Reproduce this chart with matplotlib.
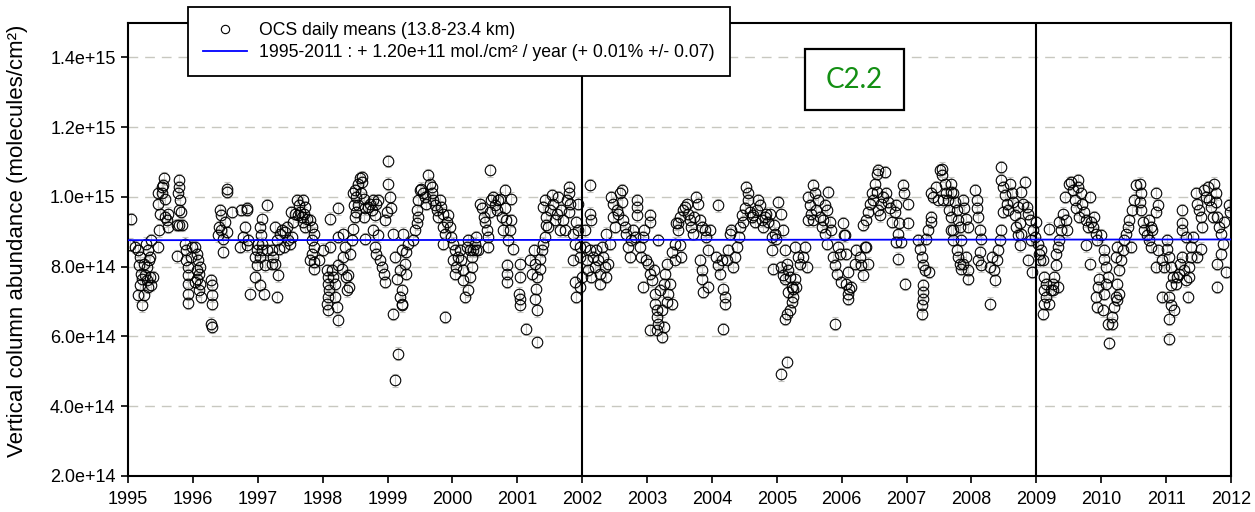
import numpy as np
import matplotlib
matplotlib.use("Agg")
import matplotlib.pyplot as plt
from matplotlib.lines import Line2D
from matplotlib.patches import Rectangle

plt.rcParams['font.family'] = ['Liberation Sans', 'DejaVu Sans']

# daily means, (fraction of year, column in 1e14 molec/cm2)
obs_1995 = [(0.04,9.37),(0.03,8.63),(0.11,8.57),(0.16,8.47),(0.18,8.28),(0.17,8.04),(0.20,7.80),(0.21,7.66),(0.18,7.47),(0.16,7.18),(0.24,7.18),(0.22,6.89),(0.26,7.75),(0.29,7.61),(0.31,7.42),(0.34,7.71),(0.36,7.47),(0.27,8.66),(0.31,8.47),(0.34,8.28),(0.24,8.09),(0.29,7.99),(0.32,8.18),(0.35,8.76),(0.39,7.71),(0.47,9.81),(0.49,9.52),(0.52,10.10),(0.54,10.33),(0.56,10.53),(0.57,9.95),(0.53,10.29),(0.48,9.04),(0.57,9.43),(0.60,9.33),(0.62,9.52),(0.62,9.14),(0.46,10.10),(0.46,8.57),(0.78,10.48),(0.79,10.29),(0.77,10.10),(0.80,9.90),(0.78,9.62),(0.82,9.57),(0.79,9.19),(0.75,9.19),(0.83,9.19),(0.75,8.30),(0.88,8.66),(0.90,8.47),(0.90,8.18),(0.93,7.99),(0.93,7.75),(0.92,7.51),(0.93,7.23),(0.93,6.96),(0.98,8.57),(0.97,8.28)]
obs_1996 = [(0.03,8.57),(0.06,8.37),(0.08,8.18),(0.11,7.99),(0.09,7.80),(0.07,7.66),(0.11,7.51),(0.10,7.32),(0.13,7.13),(0.06,7.90),(0.04,7.56),(0.28,7.61),(0.30,7.47),(0.29,7.18),(0.30,6.94),(0.28,6.37),(0.29,6.27),(0.42,9.62),(0.43,9.47),(0.40,9.14),(0.44,9.04),(0.49,9.28),(0.52,9.00),(0.47,8.80),(0.39,8.90),(0.53,10.24),(0.52,10.14),(0.47,8.42),(0.61,9.57),(0.74,9.62),(0.83,9.67),(0.84,9.62),(0.80,9.14),(0.78,8.85),(0.72,8.57),(0.83,8.61),(0.85,8.76),(0.88,7.23),(0.96,7.71),(0.99,8.47),(0.96,8.28),(0.99,8.04)]
obs_1997 = [(0.06,9.38),(0.04,9.14),(0.05,8.90),(0.01,8.66),(0.04,8.28),(0.06,8.47),(0.07,8.66),(0.04,7.47),(0.09,7.23),(0.11,8.04),(0.14,8.47),(0.15,9.76),(0.22,8.47),(0.24,8.28),(0.27,9.14),(0.29,8.76),(0.31,7.75),(0.29,7.13),(0.32,8.52),(0.34,8.95),(0.37,9.04),(0.27,8.09),(0.22,8.09),(0.42,9.00),(0.45,9.14),(0.47,8.76),(0.50,8.66),(0.52,8.85),(0.55,9.28),(0.58,9.52),(0.51,9.57),(0.41,8.57),(0.60,9.90),(0.63,9.76),(0.65,9.57),(0.68,9.43),(0.70,9.90),(0.73,9.71),(0.71,9.52),(0.70,9.28),(0.73,9.14),(0.76,9.38),(0.62,9.47),(0.81,9.33),(0.83,9.14),(0.86,8.95),(0.84,8.76),(0.86,8.57),(0.83,8.37),(0.86,8.14),(0.86,7.94),(0.94,8.18),(0.81,8.18)]
obs_1998 = [(0.00,8.49),(0.06,7.90),(0.09,7.71),(0.08,7.51),(0.10,7.32),(0.08,7.13),(0.06,6.94),(0.09,6.75),(0.19,7.13),(0.22,6.85),(0.23,6.46),(0.16,7.71),(0.14,7.90),(0.19,7.51),(0.24,8.04),(0.11,8.57),(0.24,8.85),(0.12,9.38),(0.24,9.67),(0.32,8.95),(0.34,8.57),(0.32,8.28),(0.30,7.94),(0.36,7.71),(0.39,7.75),(0.37,7.32),(0.40,7.42),(0.42,8.37),(0.45,8.76),(0.47,9.09),(0.47,10.10),(0.50,10.19),(0.52,10.0),(0.55,10.38),(0.57,10.53),(0.60,10.57),(0.61,10.43),(0.59,10.10),(0.55,9.76),(0.52,9.57),(0.50,9.43),(0.64,9.95),(0.65,9.67),(0.63,9.43),(0.65,8.80),(0.49,9.76),(0.70,9.71),(0.76,9.62),(0.78,9.90),(0.83,9.81),(0.86,9.90),(0.80,9.47),(0.78,9.04),(0.80,8.57),(0.83,8.37),(0.88,8.18),(0.91,7.99),(0.94,7.80),(0.96,7.56),(0.86,8.90),(0.73,9.81),(0.99,9.57),(0.96,9.33)]
obs_1999 = [(0.01,11.03),(0.01,10.38),(0.04,10.0),(0.06,9.67),(0.09,8.95),(0.11,8.28),(0.14,7.66),(0.09,6.65),(0.16,5.51),(0.11,4.74),(0.19,7.90),(0.22,8.47),(0.22,6.94),(0.19,7.13),(0.22,7.32),(0.22,6.89),(0.27,8.09),(0.28,7.80),(0.29,8.42),(0.32,8.66),(0.24,8.95),(0.40,8.76),(0.42,9.04),(0.45,9.24),(0.47,9.43),(0.45,9.62),(0.47,9.90),(0.50,10.19),(0.52,10.24),(0.55,10.10),(0.58,10.0),(0.60,9.81),(0.63,10.62),(0.65,10.38),(0.68,10.29),(0.68,10.10),(0.70,9.90),(0.73,9.76),(0.76,9.62),(0.78,9.43),(0.81,9.90),(0.83,9.71),(0.86,9.52),(0.86,9.14),(0.88,8.95),(0.85,8.66),(0.91,9.28),(0.93,9.47),(0.96,9.14),(0.98,8.85),(0.88,6.56)]
obs_2000 = [(0.01,8.66),(0.04,8.47),(0.01,8.18),(0.04,7.80),(0.06,7.99),(0.09,8.28),(0.12,8.47),(0.14,8.18),(0.17,7.90),(0.17,7.61),(0.19,7.13),(0.24,7.32),(0.22,8.57),(0.24,8.76),(0.27,8.47),(0.30,8.28),(0.30,7.99),(0.27,7.71),(0.32,8.47),(0.35,8.66),(0.37,8.85),(0.37,8.47),(0.40,8.47),(0.42,9.81),(0.45,9.67),(0.48,9.43),(0.50,9.28),(0.53,9.04),(0.55,8.85),(0.55,8.57),(0.58,9.57),(0.60,9.90),(0.63,10.0),(0.65,9.76),(0.68,9.62),(0.71,9.90),(0.73,9.95),(0.76,9.43),(0.78,9.04),(0.81,10.19),(0.81,9.67),(0.83,9.33),(0.86,8.76),(0.89,9.04),(0.91,9.95),(0.91,9.33),(0.94,8.52),(0.58,10.76),(0.84,8.04),(0.84,7.80),(0.84,7.56)]
obs_2001 = [(0.04,8.09),(0.04,7.71),(0.03,7.23),(0.04,7.08),(0.04,6.89),(0.14,6.22),(0.20,8.18),(0.22,7.80),(0.25,8.47),(0.27,8.09),(0.29,7.37),(0.30,7.71),(0.27,7.08),(0.30,6.75),(0.31,5.84),(0.35,7.94),(0.35,8.23),(0.38,8.47),(0.40,8.66),(0.43,8.85),(0.44,9.19),(0.40,9.71),(0.43,9.90),(0.45,9.43),(0.48,9.14),(0.50,9.62),(0.53,10.05),(0.55,9.81),(0.58,9.33),(0.61,9.52),(0.63,10.0),(0.66,9.04),(0.68,9.62),(0.71,9.33),(0.73,9.04),(0.76,9.90),(0.79,10.10),(0.79,10.29),(0.81,9.81),(0.79,9.57),(0.86,8.95),(0.89,8.66),(0.86,8.18),(0.89,7.56),(0.91,7.13),(0.94,9.81),(0.91,9.28),(0.94,9.04),(0.96,8.57),(0.97,8.28),(0.97,7.42),(0.995,7.71)]
obs_2002 = [(0.12,10.33),(0.12,9.52),(0.14,9.33),(0.04,9.04),(0.04,8.57),(0.07,8.18),(0.09,7.90),(0.12,8.47),(0.14,7.71),(0.17,8.28),(0.20,7.99),(0.22,8.47),(0.25,8.18),(0.27,7.80),(0.27,7.51),(0.30,8.57),(0.32,8.28),(0.35,7.99),(0.37,7.71),(0.40,8.09),(0.37,8.95),(0.43,8.66),(0.45,10.0),(0.48,9.81),(0.48,9.43),(0.50,9.14),(0.53,9.62),(0.55,9.52),(0.58,10.10),(0.61,10.19),(0.61,9.86),(0.63,9.33),(0.66,9.14),(0.68,8.95),(0.71,8.57),(0.73,8.28),(0.76,8.76),(0.79,9.04),(0.81,8.85),(0.84,9.90),(0.84,9.71),(0.84,9.47),(0.89,8.57),(0.91,8.28),(0.94,8.85),(0.96,9.04),(0.99,8.18),(0.94,7.42)]
obs_2003 = [(0.05,9.47),(0.05,9.28),(0.02,8.09),(0.05,7.80),(0.07,7.61),(0.10,7.90),(0.12,7.23),(0.12,6.94),(0.15,6.75),(0.15,6.56),(0.17,6.37),(0.15,6.18),(0.23,5.98),(0.26,6.27),(0.23,6.75),(0.20,7.32),(0.26,7.51),(0.28,7.80),(0.30,8.09),(0.33,7.23),(0.35,7.51),(0.38,6.94),(0.30,6.99),(0.17,8.76),(0.38,8.42),(0.43,8.18),(0.43,8.66),(0.48,9.24),(0.04,6.19),(0.45,9.24),(0.48,9.04),(0.50,8.61),(0.53,8.28),(0.50,9.43),(0.55,9.62),(0.58,9.71),(0.61,9.81),(0.63,9.52),(0.66,9.33),(0.68,9.14),(0.71,8.95),(0.73,9.43),(0.76,10.0),(0.79,9.81),(0.81,9.33),(0.84,9.14),(0.81,8.18),(0.84,7.90),(0.84,7.66),(0.86,7.28),(0.89,9.04),(0.91,8.85),(0.94,7.42),(0.94,8.47),(0.97,9.04)]
obs_2004 = [(0.10,9.76),(0.17,6.22),(0.07,8.28),(0.10,8.04),(0.12,7.80),(0.15,8.18),(0.17,7.37),(0.20,7.13),(0.20,6.94),(0.23,8.18),(0.25,8.47),(0.28,8.95),(0.30,9.04),(0.33,7.99),(0.35,8.28),(0.38,8.57),(0.41,8.85),(0.43,9.14),(0.46,9.47),(0.48,9.28),(0.51,9.67),(0.53,10.29),(0.56,10.10),(0.56,9.90),(0.59,9.57),(0.61,9.43),(0.64,9.47),(0.66,9.28),(0.69,9.62),(0.71,9.90),(0.74,9.76),(0.77,9.33),(0.79,9.14),(0.82,9.43),(0.84,9.52),(0.87,9.28),(0.89,9.52),(0.92,8.85),(0.95,9.19),(0.97,8.95),(0.99,8.80),(0.92,8.47),(0.94,7.94)]
obs_2005 = [(0.02,9.86),(0.07,9.52),(0.10,9.04),(0.12,8.47),(0.15,8.09),(0.07,7.99),(0.10,7.75),(0.12,7.66),(0.17,7.90),(0.20,7.71),(0.17,7.28),(0.23,7.42),(0.25,7.13),(0.23,6.99),(0.20,6.75),(0.15,6.65),(0.12,6.51),(0.15,5.27),(0.07,4.91),(0.25,7.37),(0.28,7.66),(0.30,7.42),(0.28,8.57),(0.33,8.28),(0.36,8.09),(0.41,8.28),(0.43,8.57),(0.46,7.99),(0.48,10.0),(0.51,9.76),(0.53,9.52),(0.48,9.33),(0.56,9.33),(0.59,10.10),(0.61,9.62),(0.56,10.33),(0.64,9.90),(0.66,9.43),(0.69,9.14),(0.71,9.33),(0.74,9.76),(0.77,9.62),(0.79,10.14),(0.82,9.28),(0.84,9.04),(0.87,8.28),(0.89,8.04),(0.92,7.80),(0.94,8.57),(0.97,8.37),(0.99,7.56),(0.77,8.66),(0.74,8.95),(0.90,6.37)]
obs_2006 = [(0.04,8.90),(0.02,9.24),(0.05,8.90),(0.07,8.37),(0.10,7.85),(0.07,7.51),(0.10,7.23),(0.09,7.08),(0.12,7.37),(0.15,7.42),(0.20,8.09),(0.22,8.47),(0.28,8.28),(0.30,8.04),(0.33,7.75),(0.36,8.57),(0.38,8.57),(0.41,8.09),(0.38,9.33),(0.33,9.19),(0.41,9.57),(0.44,9.81),(0.46,10.10),(0.49,9.90),(0.51,10.38),(0.54,10.67),(0.56,10.76),(0.66,10.71),(0.54,10.14),(0.56,9.62),(0.59,9.47),(0.61,9.81),(0.64,10.0),(0.69,10.10),(0.71,9.86),(0.74,9.67),(0.77,9.28),(0.82,9.57),(0.84,9.76),(0.87,8.95),(0.89,9.24),(0.94,10.33),(0.96,10.10),(0.84,8.71),(0.92,8.71),(0.86,8.23),(0.97,7.51)]
obs_2007 = [(0.02,9.81),(0.02,9.24),(0.17,8.76),(0.20,8.52),(0.23,8.28),(0.25,8.04),(0.28,7.90),(0.35,7.85),(0.25,7.47),(0.25,7.28),(0.25,7.08),(0.24,6.89),(0.24,6.65),(0.30,8.80),(0.33,9.04),(0.37,9.28),(0.38,9.43),(0.41,10.0),(0.38,10.10),(0.46,10.29),(0.51,10.76),(0.54,10.81),(0.54,10.62),(0.59,10.38),(0.61,10.10),(0.64,9.90),(0.66,9.62),(0.69,9.43),(0.71,9.04),(0.69,10.14),(0.56,9.90),(0.48,9.90),(0.69,10.38),(0.71,10.10),(0.74,9.86),(0.77,9.62),(0.79,9.33),(0.82,9.14),(0.84,8.76),(0.87,9.90),(0.89,9.67),(0.92,9.38),(0.95,9.14),(0.77,8.47),(0.79,8.28),(0.82,8.09),(0.84,7.94),(0.87,8.09),(0.92,8.28),(0.95,7.90),(0.95,7.66),(0.69,9.04),(0.71,8.76)]
obs_2008 = [(0.05,10.19),(0.08,9.90),(0.08,9.67),(0.10,9.43),(0.13,9.04),(0.15,8.80),(0.13,8.42),(0.10,8.18),(0.15,8.04),(0.28,7.99),(0.31,8.28),(0.34,7.90),(0.36,7.61),(0.28,6.94),(0.39,8.18),(0.41,8.47),(0.44,8.76),(0.46,9.04),(0.46,10.86),(0.46,10.48),(0.49,10.29),(0.51,10.05),(0.49,9.57),(0.54,9.81),(0.56,9.62),(0.59,10.38),(0.62,10.10),(0.64,9.86),(0.67,9.47),(0.69,9.14),(0.72,8.90),(0.75,8.61),(0.77,10.14),(0.80,9.81),(0.82,10.43),(0.85,9.71),(0.87,9.52),(0.90,9.33),(0.92,8.76),(0.87,8.18),(0.94,7.85),(0.95,9.04),(0.98,8.85),(0.99,9.28),(0.72,9.71),(0.75,9.24),(0.77,8.95)]
obs_2009 = [(0.02,8.66),(0.04,8.37),(0.05,8.18),(0.07,8.47),(0.10,8.18),(0.12,7.71),(0.15,7.51),(0.12,7.32),(0.15,7.13),(0.12,6.94),(0.11,6.65),(0.20,6.94),(0.23,7.32),(0.25,7.51),(0.27,7.71),(0.30,8.04),(0.30,8.37),(0.33,8.57),(0.35,8.76),(0.38,9.04),(0.35,9.28),(0.20,9.09),(0.41,9.52),(0.44,10.0),(0.46,9.33),(0.48,9.04),(0.51,10.38),(0.53,10.43),(0.56,10.19),(0.59,9.90),(0.61,9.67),(0.64,10.48),(0.64,10.29),(0.66,9.43),(0.69,10.10),(0.71,9.81),(0.74,9.57),(0.77,9.33),(0.79,9.14),(0.82,10.0),(0.84,9.28),(0.87,9.14),(0.77,8.61),(0.82,8.09),(0.89,9.43),(0.94,8.76),(0.92,8.95),(0.99,8.90),(0.25,7.32),(0.33,7.42),(0.97,7.66),(0.95,7.42),(0.92,7.13),(0.94,6.85)]
obs_2010 = [(0.05,8.47),(0.05,8.23),(0.07,7.99),(0.02,6.75),(0.05,7.23),(0.07,7.51),(0.10,7.71),(0.11,6.37),(0.17,6.56),(0.17,6.37),(0.12,5.81),(0.20,6.85),(0.23,7.13),(0.25,7.04),(0.28,7.23),(0.25,7.51),(0.28,7.90),(0.23,8.28),(0.25,8.57),(0.30,8.18),(0.33,8.47),(0.35,8.76),(0.38,8.95),(0.41,9.14),(0.43,9.33),(0.46,8.57),(0.48,9.62),(0.51,9.90),(0.54,10.33),(0.59,10.38),(0.61,10.10),(0.59,9.86),(0.61,9.62),(0.64,9.28),(0.66,9.04),(0.74,9.33),(0.76,9.14),(0.79,9.04),(0.71,8.90),(0.74,8.76),(0.76,8.57),(0.84,10.10),(0.87,9.76),(0.84,9.57),(0.87,8.47),(0.84,7.99),(0.94,8.18),(0.97,7.99),(0.94,7.13)]
obs_2011 = [(0.02,8.76),(0.02,8.52),(0.05,8.28),(0.07,7.99),(0.10,7.71),(0.07,7.47),(0.05,7.13),(0.07,6.89),(0.05,6.51),(0.05,5.94),(0.12,6.75),(0.15,7.51),(0.17,7.71),(0.20,7.80),(0.22,8.09),(0.25,8.28),(0.28,7.90),(0.30,7.61),(0.33,7.13),(0.36,7.71),(0.36,7.99),(0.38,8.28),(0.38,8.57),(0.25,9.62),(0.25,9.24),(0.25,9.04),(0.30,8.85),(0.41,8.85),(0.46,10.10),(0.48,9.81),(0.51,9.62),(0.53,9.43),(0.56,9.14),(0.58,10.19),(0.61,10.0),(0.64,10.29),(0.66,9.90),(0.69,9.71),(0.72,9.43),(0.74,10.38),(0.77,10.10),(0.77,9.86),(0.79,9.43),(0.82,9.14),(0.84,8.95),(0.87,8.66),(0.84,8.37),(0.79,8.09),(0.79,7.42),(0.89,9.28),(0.92,7.85),(0.97,9.76),(0.99,9.57),(0.53,8.52),(0.48,8.28)]

years = list(range(1995, 2012))
obs_by_year = [obs_1995, obs_1996, obs_1997, obs_1998, obs_1999, obs_2000, obs_2001, obs_2002,
               obs_2003, obs_2004, obs_2005, obs_2006, obs_2007, obs_2008, obs_2009, obs_2010, obs_2011]
obs_err = 0.18  # 1e14, daily standard error

# linear trend 1995-2011
trend_start = 8.76e14
trend_slope = 1.20e11
trend_years = [1995, 2012]

t = np.array([yr + f for yr, obs in zip(years, obs_by_year) for f, _ in obs])
v = np.array([val for obs in obs_by_year for _, val in obs]) * 1e14

fig = plt.figure(figsize=(12.55, 5.12), dpi=100)
ax = fig.add_axes([128 / 1255, 36 / 512, 1103 / 1255, 453.5 / 512])

for yv in np.arange(4e14, 1.41e15, 2e14):
    ax.axhline(yv, color='#c8c8c0', lw=1, dashes=(7, 5), zorder=0)

ax.errorbar(t, v, yerr=obs_err * 1e14, fmt='none', ecolor='#c4c4c0', elinewidth=0.8,
            capsize=2.5, capthick=0.8, zorder=1)
ax.plot(t, v, 'o', ms=7.6, mfc='none', mec='black', mew=0.8, zorder=2)

trend = [trend_start + trend_slope * (yr - trend_years[0]) for yr in trend_years]
ax.plot(trend_years, trend, color='#0000ff', lw=1.3, zorder=4)

for yr in (2002, 2009):
    ax.axvline(yr, color='black', lw=1.5, zorder=3)

ax.set_xlim(1995, 2012)
ax.set_ylim(2e14, 1.5e15)
ax.set_xticks(range(1995, 2013))
ax.set_yticks(np.arange(2e14, 1.41e15, 2e14))
ax.set_yticklabels([f'{y:.1e}' for y in np.arange(2e14, 1.41e15, 2e14)])
ax.tick_params(direction='out', length=5, width=1.2, labelsize=13, pad=4)
ax.tick_params(axis='x', pad=6)
for sp in ax.spines.values():
    sp.set_linewidth(1.5)

fig.text(18 / 1255, 1 - 241 / 512, 'Vertical column abundance (molecules/cm²)',
         rotation=90, ha='center', va='center', fontsize=16)

handles = [Line2D([], [], ls='none', marker='o', ms=6, mfc='none', mec='black', mew=0.8),
           Line2D([], [], color='#0000ff', lw=1.3)]
labels = ['OCS daily means (13.8-23.4 km)',
          '1995-2011 : + 1.20e+11 mol./cm² / year (+ 0.01% +/- 0.07)']
leg = ax.legend(handles, labels, loc='upper left', bbox_to_anchor=(188 / 1255, 1 - 7 / 512),
                bbox_transform=fig.transFigure, fancybox=False, framealpha=1, edgecolor='black',
                fontsize=12.7, handlelength=2.5, handletextpad=0.7, borderpad=0.85,
                labelspacing=0.3, borderaxespad=0)
leg.get_frame().set_linewidth(1.3)
leg.set_zorder(10)

fig.patches.append(Rectangle((805 / 1255, 1 - 110 / 512), 99 / 1255, 61 / 512,
                             transform=fig.transFigure, facecolor='white', edgecolor='black',
                             lw=1.6, zorder=10))
fig.text(854.5 / 1255, 1 - 79.5 / 512, 'C2.2', color='#138f13', fontsize=20,
         family=['Lato', 'DejaVu Sans'], ha='center', va='center', zorder=11)

fig.savefig('out.png', dpi=100)
